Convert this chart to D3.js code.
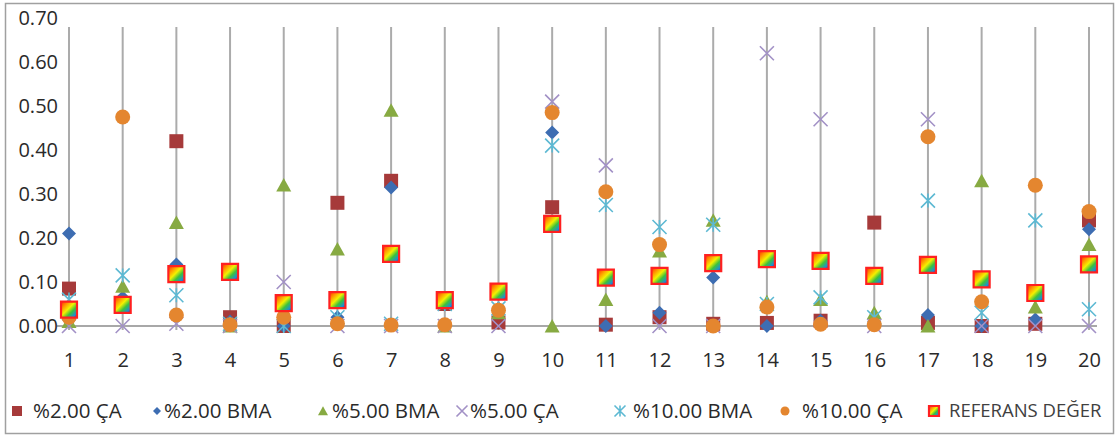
<!DOCTYPE html>
<html>
<head>
<meta charset="utf-8">
<script src="https://cdn.jsdelivr.net/npm/d3@7"></script>
<style>
  html, body { margin: 0; padding: 0; background: #fff; }
  svg { display: block; font-family: "Open Sans", "Noto Sans", sans-serif; }
</style>
</head>
<body>
<svg id="chart" width="1116" height="435"></svg>
<script>
// Category labels (sample numbers 1..20)
const categories = ["1","2","3","4","5","6","7","8","9","10","11","12","13","14","15","16","17","18","19","20"];

// Series values per category
const ca2   = [0.085, 0.050, 0.420, 0.020, 0.000, 0.280, 0.330, 0.050, 0.008, 0.270, 0.003, 0.020, 0.005, 0.007, 0.012, 0.235, 0.007, 0.000, 0.005, 0.240];
const bma2  = [0.210, 0.065, 0.140, 0.010, 0.000, 0.020, 0.315, 0.050, 0.040, 0.440, 0.000, 0.030, 0.110, 0.000, 0.012, 0.010, 0.025, 0.000, 0.015, 0.220];
const bma5  = [0.010, 0.090, 0.235, 0.000, 0.320, 0.175, 0.490, 0.000, 0.030, 0.000, 0.060, 0.170, 0.240, 0.055, 0.060, 0.030, 0.000, 0.330, 0.043, 0.185];
const ca5   = [0.000, 0.000, 0.005, 0.000, 0.100, 0.000, 0.000, 0.000, 0.000, 0.510, 0.365, 0.000, 0.000, 0.620, 0.470, 0.000, 0.470, 0.000, 0.000, 0.000];
const bma10 = [0.060, 0.115, 0.070, 0.005, 0.000, 0.020, 0.005, 0.050, 0.040, 0.410, 0.275, 0.225, 0.230, 0.050, 0.065, 0.020, 0.285, 0.030, 0.240, 0.038];
const ca10  = [0.020, 0.475, 0.025, 0.003, 0.020, 0.005, 0.002, 0.003, 0.036, 0.485, 0.305, 0.185, 0.000, 0.043, 0.004, 0.003, 0.430, 0.055, 0.320, 0.260];
const ref   = [0.037, 0.048, 0.118, 0.123, 0.052, 0.059, 0.164, 0.059, 0.078, 0.232, 0.110, 0.114, 0.143, 0.152, 0.148, 0.114, 0.139, 0.106, 0.075, 0.140];

// Series names as shown in the legend
const seriesNames = ["%2.00 ÇA", "%2.00 BMA", "%5.00 BMA", "%5.00 ÇA", "%10.00 BMA", "%10.00 ÇA", "REFERANS DEĞER"];

// Y-axis tick values
const yTicks = [0, 0.1, 0.2, 0.3, 0.4, 0.5, 0.6, 0.7];

const svg = d3.select("#chart");
const W = 1116, H = 435;

// Gradient fill for the reference marker
const defs = svg.append("defs");
const grad = defs.append("linearGradient").attr("id", "rainbow")
  .attr("x1", "0%").attr("y1", "0%").attr("x2", "100%").attr("y2", "100%");
[["0%", "#ff2a00"], ["25%", "#ff9a00"], ["45%", "#f4f000"], ["65%", "#3cc23c"], ["85%", "#1e8fd0"], ["100%", "#2040b0"]]
  .forEach(([o, c]) => grad.append("stop").attr("offset", o).attr("stop-color", c));

// Outer frame
svg.append("rect").attr("x", 5.5).attr("y", 3.5).attr("width", W - 8).attr("height", H - 5)
  .attr("fill", "#fff").attr("stroke", "#a0a0a0").attr("stroke-width", 1.5);

const x = d3.scalePoint().domain(categories).range([69, 1089]);
const y = d3.scaleLinear().domain([0, 0.7]).range([326, 18]);

// Vertical gridlines at each category
svg.append("g").selectAll("line").data(categories).join("line")
  .attr("x1", d => x(d)).attr("x2", d => x(d))
  .attr("y1", 27).attr("y2", y(0) + 4)
  .attr("stroke", "#ababab").attr("stroke-width", 2);

// Horizontal baseline
svg.append("line").attr("x1", 57).attr("x2", 1097).attr("y1", y(0)).attr("y2", y(0))
  .attr("stroke", "#a8a8a8").attr("stroke-width", 2);

const labelFont = "'Open Sans', sans-serif";

// Y-axis labels
const yAxis = d3.axisLeft(y).tickValues(yTicks).tickFormat(d3.format(".2f")).tickSize(0).tickPadding(0);
const gy = svg.append("g").attr("transform", "translate(58,0)").call(yAxis);
gy.select(".domain").remove();
gy.selectAll("text").attr("font-size", 20).attr("fill", "#2a2a2a").attr("font-family", labelFont);

// X-axis labels
const xAxis = d3.axisBottom(x).tickSize(0).tickPadding(0);
const gx = svg.append("g").attr("transform", `translate(0,${y(0) + 34})`).call(xAxis);
gx.select(".domain").remove();
gx.selectAll("text").attr("font-size", 20).attr("fill", "#2a2a2a")
  .attr("font-family", labelFont).attr("dy", "0.35em");

// Marker shape generators (centered at 0,0)
function squarePath(s) { const h = s / 2; return `M${-h},${-h}H${h}V${h}H${-h}Z`; }
function diamondPath(s) { const h = s / 2; return `M0,${-h}L${h},0L0,${h}L${-h},0Z`; }
function trianglePath(s) { const h = s / 2; return `M0,${-h * 0.95}L${h},${h * 0.85}L${-h},${h * 0.85}Z`; }
function crossPath(s) { const h = s / 2; return `M${-h},${-h}L${h},${h}M${h},${-h}L${-h},${h}`; }
function starPath(s) { const h = s / 2; return `M${-h},${-h}L${h},${h}M${h},${-h}L${-h},${h}M0,${-h}V${h}`; }

const series = [
  { name: seriesNames[0], values: ca2,   kind: "square",   color: "#a63a3a" },
  { name: seriesNames[1], values: bma2,  kind: "diamond",  color: "#3d6db2" },
  { name: seriesNames[2], values: bma5,  kind: "triangle", color: "#87aa42" },
  { name: seriesNames[3], values: ca5,   kind: "cross",    color: "#a291c6" },
  { name: seriesNames[4], values: bma10, kind: "star",     color: "#5db9d3" },
  { name: seriesNames[5], values: ca10,  kind: "circle",   color: "#e4862f" },
  { name: seriesNames[6], values: ref,   kind: "ref",      color: "#ff2020" }
];

function drawMarker(g, kind, color, size) {
  switch (kind) {
    case "square":   g.append("path").attr("d", squarePath(size)).attr("fill", color); break;
    case "diamond":  g.append("path").attr("d", diamondPath(size)).attr("fill", color); break;
    case "triangle": g.append("path").attr("d", trianglePath(size)).attr("fill", color); break;
    case "cross":    g.append("path").attr("d", crossPath(size)).attr("fill", "none").attr("stroke", color).attr("stroke-width", 1.6); break;
    case "star":     g.append("path").attr("d", starPath(size)).attr("fill", "none").attr("stroke", color).attr("stroke-width", 1.6); break;
    case "circle":   g.append("circle").attr("r", size / 2).attr("fill", color); break;
    case "ref":
      g.append("path").attr("d", squarePath(size)).attr("fill", "url(#rainbow)")
        .attr("stroke", color).attr("stroke-width", 2.2);
      break;
  }
}

const plotSizes = { square: 14, diamond: 14, triangle: 15, cross: 14, star: 14, circle: 15, ref: 16 };
const legendSizes = { square: 10, diamond: 8, triangle: 10, cross: 11, star: 11, circle: 9, ref: 10 };

// Data markers, one group per series in drawing order
series.forEach(s => {
  const g = svg.append("g").attr("class", "series");
  categories.forEach((c, i) => {
    const m = g.append("g").attr("transform", `translate(${x(c)},${y(s.values[i])})`);
    drawMarker(m, s.kind, s.color, plotSizes[s.kind]);
  });
});

// Legend
const legendIconX = [17, 157, 323, 462, 620, 785, 934];
const legendTextX = [33, 164, 332, 470, 633, 802, 949];
const legendY = 411;
const lg = svg.append("g").attr("class", "legend");
series.forEach((s, i) => {
  const m = lg.append("g").attr("transform", `translate(${legendIconX[i]},${legendY})`);
  drawMarker(m, s.kind, s.color, legendSizes[s.kind]);
  lg.append("text").attr("x", legendTextX[i]).attr("y", legendY).attr("dy", "0.35em")
    .attr("font-size", s.kind === "ref" ? 18.5 : 20.5)
    .attr("fill", s.kind === "ref" ? "#404040" : "#2a2a2a")
    .attr("font-family", labelFont)
    .text(s.name);
});
</script>
</body>
</html>
